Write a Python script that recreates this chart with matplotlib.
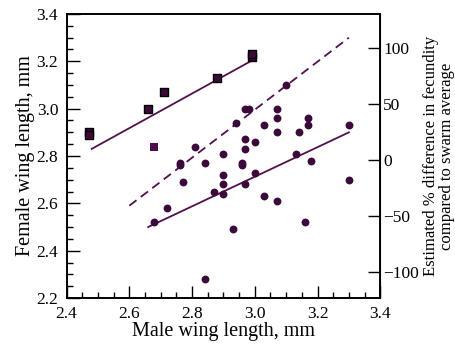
import numpy as np
import matplotlib
matplotlib.use("Agg")
matplotlib.rcParams["font.family"] = "serif"
matplotlib.rcParams["font.serif"] = ["Liberation Serif", "DejaVu Serif"]
import matplotlib.pyplot as plt
from matplotlib.ticker import MultipleLocator

# ── data ─────────────────────────────────────────────────────────────────────
# squares (black edge) – upper group
sq_x = [2.47, 2.47, 2.66, 2.71, 2.88, 2.99, 2.99]
sq_y = [2.90, 2.89, 3.00, 3.07, 3.13, 3.22, 3.23]
# lone purple square
odd_x = [2.68]
odd_y = [2.84]
# circles – lower group
circ_x = [3.10, 2.97, 2.98, 3.07, 3.07, 3.17, 3.17, 3.03, 2.94, 3.07, 3.14, 3.30,
          2.97, 3.00, 2.97, 2.81, 2.90, 3.13, 2.76, 2.76, 2.84, 2.96, 2.96, 3.18,
          2.90, 3.00, 3.30, 2.77, 2.87, 2.90, 2.90, 2.97, 3.03, 3.07, 2.72, 2.68,
          2.93, 3.16, 2.84]
circ_y = [3.10, 3.00, 3.00, 3.00, 2.96, 2.96, 2.93, 2.93, 2.94, 2.90, 2.90, 2.93,
          2.87, 2.86, 2.83, 2.84, 2.81, 2.81, 2.77, 2.76, 2.77, 2.77, 2.76, 2.78,
          2.72, 2.73, 2.70, 2.69, 2.65, 2.68, 2.64, 2.68, 2.63, 2.61, 2.58, 2.52,
          2.49, 2.52, 2.28]
# fitted lines (endpoints)
fit_up_x, fit_up_y = [2.48, 3.00], [2.83, 3.21]
fit_lo_x, fit_lo_y = [2.66, 3.30], [2.50, 2.90]
fit_dash_x, fit_dash_y = [2.60, 3.30], [2.59, 3.30]

# right axis: fecundity % vs female wing length (0 % at 2.783 mm, 100 % per 0.475 mm)
fec_zero, fec_per100 = 2.783, 0.475

PT = "#3c0a3a"
LN = "#52104c"

fig = plt.figure(figsize=(4.56, 3.49), dpi=100)
ax = fig.add_axes([0.146, 0.146, 0.688, 0.814])

ax.plot(fit_up_x, fit_up_y, color=LN, lw=1.3)
ax.plot(fit_lo_x, fit_lo_y, color=LN, lw=1.3)
ax.plot(fit_dash_x, fit_dash_y, color=LN, lw=1.3, ls=(0, (5, 3)))
ax.scatter(circ_x, circ_y, s=32, color=PT, zorder=3, linewidths=0)
ax.scatter(sq_x, sq_y, s=40, marker="s", facecolor=PT, edgecolor="black",
           linewidths=1.0, zorder=3)
ax.scatter(odd_x, odd_y, s=36, marker="s", color="#4a0f48", linewidths=0, zorder=3)

ax.set_xlim(2.4, 3.4)
ax.set_ylim(2.2, 3.4)
ax.xaxis.set_major_locator(MultipleLocator(0.2))
ax.xaxis.set_minor_locator(MultipleLocator(0.05))
ax.yaxis.set_major_locator(MultipleLocator(0.2))
ax.yaxis.set_minor_locator(MultipleLocator(0.05))
ax.xaxis.set_major_formatter(lambda v, p: f"{v:.1f}")
ax.yaxis.set_major_formatter(lambda v, p: f"{v:.1f}")
ax.tick_params(which="both", direction="in", top=False, right=False,
               labelsize=12.5, width=1.0)
ax.tick_params(which="major", length=9, pad=6)
ax.tick_params(which="minor", length=4.5)
for sp in ax.spines.values():
    sp.set_linewidth(1.4)

ax.set_xlabel("Male wing length, mm", fontsize=14.5, labelpad=0)
ax.set_ylabel("Female wing length, mm", fontsize=14.5, labelpad=1)

sec = ax.secondary_yaxis(
    "right",
    functions=(lambda y: (y - fec_zero) / fec_per100 * 100,
               lambda f: f / 100 * fec_per100 + fec_zero))
sec.set_yticks([-100, -50, 0, 50, 100])
sec.tick_params(direction="in", length=9, width=1.0, pad=2, labelsize=12.5)
sec.set_ylabel("Estimated % difference in fecundity\ncompared to swarm average",
               fontsize=12, labelpad=3, linespacing=1.0)

fig.savefig("out.png", dpi=100)
